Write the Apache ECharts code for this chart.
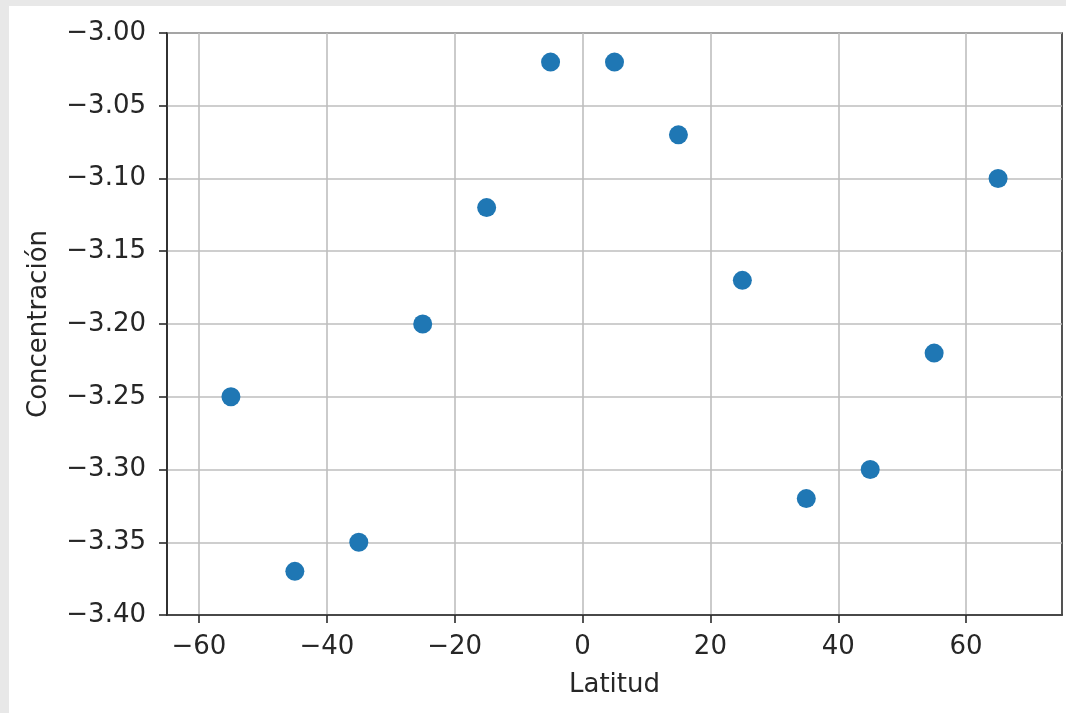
<!DOCTYPE html>
<html>
<head>
<meta charset="utf-8">
<script src="https://cdn.jsdelivr.net/npm/echarts@6/dist/echarts.min.js"></script>
<style>
  html, body { margin: 0; padding: 0; background: #ffffff; }
  #chart { width: 1066px; height: 713px; }
</style>
</head>
<body>
<div id="chart"></div>
<script>
// Latitude (degrees) and concentration measured at each latitude band
const latitudes = [-55, -45, -35, -25, -15, -5, 5, 15, 25, 35, 45, 55, 65];
const concentrations = [-3.25, -3.37, -3.35, -3.20, -3.12, -3.02, -3.02, -3.07, -3.17, -3.32, -3.30, -3.22, -3.10];

const xTicks = [-60, -40, -20, 0, 20, 40, 60];
const yTicks = [-3.40, -3.35, -3.30, -3.25, -3.20, -3.15, -3.10, -3.05, -3.00];

const points = latitudes.map((lat, i) => [lat, concentrations[i]]);

const minus = s => String(s).replace('-', '\u2212');
const font = 'DejaVu Sans';
const fontSize = 26;
const textColor = '#262626';

const chart = echarts.init(document.getElementById('chart'), null, { renderer: 'canvas' });
chart.setOption({
  backgroundColor: '#ffffff',
  animation: false,
  graphic: [
    { type: 'rect', left: 0, top: 0, shape: { width: 1066, height: 6 }, style: { fill: '#e8e8e8' }, z: -10 },
    { type: 'rect', left: 0, top: 0, shape: { width: 9, height: 713 }, style: { fill: '#e8e8e8' }, z: -10 }
  ],
  grid: { left: 167, top: 33, right: 4, bottom: 98, containLabel: false,
          show: true, borderColor: '#2a2a2a', borderWidth: 1.6 },
  xAxis: {
    type: 'value', min: -65, max: 75,
    name: 'Latitud', nameLocation: 'middle', nameGap: 57,
    nameTextStyle: { fontFamily: font, fontSize: fontSize, color: textColor },
    axisLine: { show: true, onZero: false, lineStyle: { color: '#2a2a2a', width: 1.6 } },
    axisTick: { show: true, inside: false, length: 8, lineStyle: { color: '#2a2a2a', width: 1.6 },
                customValues: xTicks },
    axisLabel: { customValues: xTicks, fontFamily: font, fontSize: fontSize, color: textColor, margin: 19,
                 formatter: v => minus(v) },
    splitLine: { show: true, lineStyle: { color: '#bebebe', width: 1.6 } },
    interval: 20
  },
  yAxis: {
    type: 'value', min: -3.40, max: -3.00, interval: 0.05,
    name: 'Concentración', nameLocation: 'middle', nameGap: 115, nameRotate: 90,
    nameTextStyle: { fontFamily: font, fontSize: fontSize, color: textColor },
    axisLine: { show: true, onZero: false, lineStyle: { color: '#2a2a2a', width: 1.6 } },
    axisTick: { show: true, inside: false, length: 8, lineStyle: { color: '#2a2a2a', width: 1.6 } },
    axisLabel: { fontFamily: font, fontSize: fontSize, color: textColor, margin: 21,
                 formatter: v => minus(v.toFixed(2)) },
    splitLine: { show: true, lineStyle: { color: '#bebebe', width: 1.6 } }
  },
  series: [{
    type: 'scatter',
    data: points,
    symbolSize: 19,
    itemStyle: { color: '#1f77b4', opacity: 1 }
  }]
});
</script>
</body>
</html>
